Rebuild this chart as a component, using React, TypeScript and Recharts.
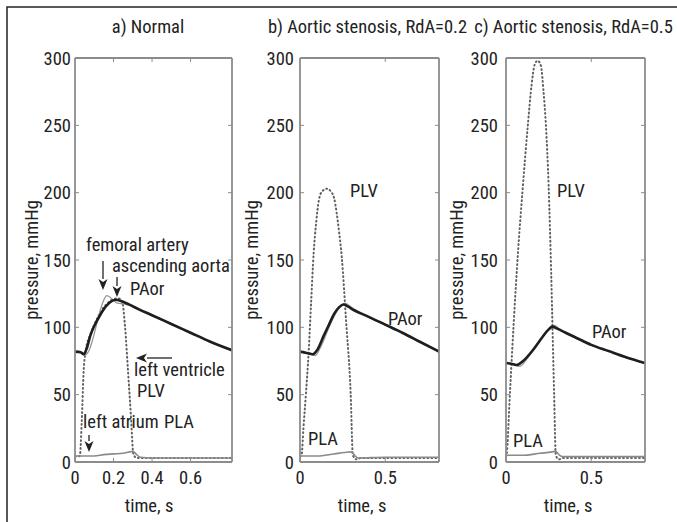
import { LineChart, Line, XAxis, YAxis } from 'recharts';

const FONT = "'Liberation Sans Narrow', 'Roboto Condensed', 'Arial Narrow', Arial, sans-serif";
const BOX = '#8c8c8c';
const INK = '#222';

const X_MAX = 0.815;
const Y_TICKS = [0, 50, 100, 150, 200, 250, 300];
const Y_INNER = [50, 100, 150, 200, 250];

// a) Normal
const normAorT = [0, 0.03, 0.045, 0.06, 0.08, 0.1, 0.13, 0.16, 0.19, 0.21, 0.24, 0.28, 0.33, 0.4, 0.5, 0.6, 0.7, 0.815];
const normAor = [82, 81.5, 80, 84, 94, 101, 109, 115.5, 119.5, 120.5, 119.5, 117, 113.5, 109, 102.5, 96, 89.5, 83];
const normFemT = [0, 0.03, 0.05, 0.07, 0.09, 0.11, 0.13, 0.15, 0.165, 0.18, 0.2, 0.22, 0.25, 0.28, 0.33, 0.4, 0.5, 0.6, 0.7, 0.815];
const normFem = [82, 81, 79.5, 82, 90, 101, 112, 120.5, 123.5, 122.5, 120, 118, 117.5, 116.5, 113, 108.5, 102, 95.5, 89, 82.5];
const normPlvT = [0, 0.025, 0.035, 0.045, 0.055, 0.08, 0.11, 0.14, 0.17, 0.2, 0.225, 0.245, 0.26, 0.275, 0.29, 0.303, 0.32, 0.4, 0.6, 0.815];
const normPlv = [4, 4.5, 30, 68, 82, 95, 105, 113, 118, 121, 121.5, 119, 100, 68, 35, 6, 3, 3, 3, 3];
const normPlaT = [0, 0.1, 0.15, 0.2, 0.25, 0.285, 0.3, 0.32, 0.34, 0.4, 0.6, 0.815];
const normPla = [4.5, 4.5, 5.5, 6, 6.5, 7.5, 8, 5.5, 3.5, 3, 3, 3];

// b) Aortic stenosis, RdA=0.2
const sten2AorT = [0, 0.04, 0.075, 0.1, 0.14, 0.17, 0.2, 0.23, 0.256, 0.28, 0.32, 0.4, 0.5, 0.6, 0.7, 0.815];
const sten2Aor = [82, 81, 80, 83, 94, 102, 110, 115, 117, 115.5, 112.5, 108, 102, 96, 89.5, 82];
const sten2FemT = [0, 0.05, 0.09, 0.12, 0.16, 0.2, 0.24, 0.265, 0.3, 0.35, 0.4, 0.5, 0.6, 0.7, 0.815];
const sten2Fem = [82, 80.5, 79, 85, 97, 108, 116, 118, 115, 111, 107.5, 101.5, 95.5, 89, 81.5];
const sten2PlvT = [0, 0.01, 0.02, 0.035, 0.05, 0.065, 0.08, 0.095, 0.11, 0.13, 0.16, 0.18, 0.2, 0.215, 0.23, 0.245, 0.27, 0.297, 0.31, 0.33, 0.36, 0.815];
const sten2Plv = [4, 6, 25, 51, 80, 118, 155, 178, 194, 201, 203, 201, 196, 185, 170, 152, 105, 51, 5, 2, 3, 3];
const sten2PlaT = [0, 0.1, 0.2, 0.26, 0.3, 0.32, 0.34, 0.5, 0.815];
const sten2Pla = [4.5, 4.5, 6, 7, 7.5, 5, 3, 3.5, 3.5];

// c) Aortic stenosis, RdA=0.5
const sten5AorT = [0, 0.03, 0.062, 0.1, 0.157, 0.215, 0.25, 0.272, 0.3, 0.35, 0.4, 0.5, 0.6, 0.7, 0.815];
const sten5Aor = [73.5, 73, 72, 75, 83, 93, 98.5, 100.5, 99, 96, 93, 87, 82.5, 78, 73.5];
const sten5FemT = [0, 0.05, 0.08, 0.12, 0.17, 0.22, 0.26, 0.285, 0.31, 0.35, 0.4, 0.5, 0.6, 0.7, 0.815];
const sten5Fem = [73.5, 72, 71, 76, 85, 94, 99, 101.5, 99, 95.5, 92.5, 86.5, 82, 77.5, 73];
const sten5PlvT = [0, 0.004, 0.023, 0.045, 0.071, 0.096, 0.128, 0.15, 0.168, 0.186, 0.205, 0.22, 0.234, 0.25, 0.265, 0.282, 0.292, 0.31, 0.34, 0.5, 0.815];
const sten5Plv = [4, 6, 51, 103, 157, 200, 250, 280, 295, 298, 294, 275, 250, 205, 140, 51, 5, 2, 3, 3, 3];
const sten5PlaT = [0, 0.1, 0.2, 0.27, 0.29, 0.31, 0.33, 0.5, 0.815];
const sten5Pla = [5, 5, 6.5, 7.5, 8, 5.5, 4, 4, 4];

const pts = (t: number[], v: number[]) => t.map((x, i) => ({ t: x, v: v[i] }));

const panels = [
  {
    key: 'a', left: 75, right: 232, xTicks: [0, 0.2, 0.4, 0.6], gap: 4,
    aor: pts(normAorT, normAor), fem: pts(normFemT, normFem),
    plv: pts(normPlvT, normPlv), pla: pts(normPlaT, normPla),
  },
  {
    key: 'b', left: 300, right: 439, xTicks: [0, 0.5], gap: 6,
    aor: pts(sten2AorT, sten2Aor), fem: pts(sten2FemT, sten2Fem),
    plv: pts(sten2PlvT, sten2Plv), pla: pts(sten2PlaT, sten2Pla),
  },
  {
    key: 'c', left: 506, right: 645, xTicks: [0, 0.5], gap: 8,
    aor: pts(sten5AorT, sten5Aor), fem: pts(sten5FemT, sten5Fem),
    plv: pts(sten5PlvT, sten5Plv), pla: pts(sten5PlaT, sten5Pla),
  },
];

const TOP = 58;
const BOTTOM = 462;
const W = 677;
const H = 522;

const leftTick = (gap: number) => (props: any) => {
  const { x, y, payload } = props;
  return (
    <g>
      <line x1={x} y1={y} x2={x + 4} y2={y} stroke={BOX} />
      <text x={x - gap} y={y} dy="0.36em" textAnchor="end" fontSize={18.5} fill={INK} fontFamily={FONT}>
        {payload.value}
      </text>
    </g>
  );
};

const bottomTick = (props: any) => {
  const { x, y, payload } = props;
  return (
    <g>
      <line x1={x} y1={y} x2={x} y2={y - 4} stroke={BOX} />
      <text x={x} y={y + 22} textAnchor="middle" fontSize={18.5} fill={INK} fontFamily={FONT}>
        {payload.value}
      </text>
    </g>
  );
};

const topTick = (props: any) => {
  const { x, y } = props;
  return <line x1={x} y1={y} x2={x} y2={y + 4} stroke={BOX} />;
};

const rightTick = (props: any) => {
  const { x, y } = props;
  return <line x1={x} y1={y} x2={x - 4} y2={y} stroke={BOX} />;
};

const Arrow = ({ x1, y1, x2, y2 }: { x1: number; y1: number; x2: number; y2: number }) => {
  const a = Math.atan2(y2 - y1, x2 - x1);
  const len = 11;
  const half = 4.5;
  const bx = x2 - len * Math.cos(a);
  const by = y2 - len * Math.sin(a);
  const px = -Math.sin(a) * half;
  const py = Math.cos(a) * half;
  return (
    <g>
      <line x1={x1} y1={y1} x2={bx} y2={by} stroke={INK} strokeWidth={1.3} />
      <polygon points={`${x2},${y2} ${bx + px},${by + py} ${bx + 3 * Math.cos(a)},${by + 3 * Math.sin(a)} ${bx - px},${by - py}`} fill={INK} />
    </g>
  );
};

const txt = { fontFamily: FONT, fontSize: 18.5, fill: INK } as const;

export default function App() {
  return (
    <div style={{ position: 'absolute', left: 0, top: 0, width: W, height: H, overflow: 'hidden', background: '#fff' }}>
      {panels.map((p) => (
        <div key={p.key} style={{ position: 'absolute', left: 0, top: 0 }}>
          <LineChart
            width={W}
            height={H}
            margin={{ top: TOP - 1, bottom: H - BOTTOM - 1, left: p.left - 1, right: W - p.right - 1 }}
          >
            <XAxis
              xAxisId="bottom"
              dataKey="t"
              type="number"
              domain={[0, X_MAX]}
              ticks={p.xTicks}
              interval={0}
              height={1}
              tickSize={0}
              tickMargin={0}
              tickLine={false}
              axisLine={{ stroke: BOX, strokeWidth: 1.8 }}
              tick={bottomTick}
              allowDataOverflow
            />
            <XAxis
              xAxisId="top"
              orientation="top"
              dataKey="t"
              type="number"
              domain={[0, X_MAX]}
              ticks={p.xTicks.filter((v) => v > 0)}
              interval={0}
              height={1}
              tickSize={0}
              tickMargin={0}
              tickLine={false}
              axisLine={{ stroke: BOX, strokeWidth: 1.8 }}
              tick={topTick}
              allowDataOverflow
            />
            <YAxis
              yAxisId="left"
              type="number"
              domain={[0, 300]}
              ticks={Y_TICKS}
              interval={0}
              width={1}
              tickSize={0}
              tickMargin={0}
              tickLine={false}
              axisLine={{ stroke: BOX, strokeWidth: 1.8 }}
              tick={leftTick(p.gap)}
              allowDataOverflow
            />
            <YAxis
              yAxisId="right"
              orientation="right"
              type="number"
              domain={[0, 300]}
              ticks={Y_INNER}
              interval={0}
              width={1}
              tickSize={0}
              tickMargin={0}
              tickLine={false}
              axisLine={{ stroke: BOX, strokeWidth: 1.8 }}
              tick={rightTick}
              allowDataOverflow
            />
            <Line
              xAxisId="bottom"
              yAxisId="left"
              data={p.plv}
              dataKey="v"
              type="monotone"
              stroke="#5f5f5f"
              strokeWidth={2}
              strokeDasharray="0.8 3.2"
              strokeLinecap="round"
              dot={false}
              isAnimationActive={false}
            />
            <Line
              xAxisId="bottom"
              yAxisId="left"
              data={p.pla}
              dataKey="v"
              type="monotone"
              stroke="#8a8a8a"
              strokeWidth={1.6}
              dot={false}
              isAnimationActive={false}
            />
            <Line
              xAxisId="bottom"
              yAxisId="left"
              data={p.fem}
              dataKey="v"
              type="monotone"
              stroke="#999"
              strokeWidth={1.3}
              dot={false}
              isAnimationActive={false}
            />
            <Line
              xAxisId="bottom"
              yAxisId="left"
              data={p.aor}
              dataKey="v"
              type="monotone"
              stroke="#1e1e1e"
              strokeWidth={2.6}
              dot={false}
              isAnimationActive={false}
            />
          </LineChart>
        </div>
      ))}
      <svg width={W} height={H} style={{ position: 'absolute', left: 0, top: 0, pointerEvents: 'none' }}>
        <rect x={7} y={7} width={700} height={560} fill="none" stroke={INK} strokeWidth={1.5} />

        <text {...txt} x={148} y={33} textAnchor="middle">a) Normal</text>
        <text {...txt} x={367.5} y={33} textAnchor="middle">b) Aortic stenosis, RdA=0.2</text>
        <text {...txt} x={573.5} y={33} textAnchor="middle">c) Aortic stenosis, RdA=0.5</text>

        <text {...txt} transform="translate(38,260) rotate(-90)" textAnchor="middle">pressure, mmHg</text>
        <text {...txt} transform="translate(258,260) rotate(-90)" textAnchor="middle">pressure, mmHg</text>
        <text {...txt} transform="translate(463,260) rotate(-90)" textAnchor="middle">pressure, mmHg</text>

        <text {...txt} x={149} y={512} textAnchor="middle">time, s</text>
        <text {...txt} x={362} y={512} textAnchor="middle">time, s</text>
        <text {...txt} x={568} y={512} textAnchor="middle">time, s</text>

        <text {...txt} x={86} y={251}>femoral artery</text>
        <text {...txt} x={112} y={272}>ascending aorta</text>
        <text {...txt} x={130} y={295}>PAor</text>
        <text {...txt} x={134} y={376}>left ventricle</text>
        <text {...txt} x={137} y={397}>PLV</text>
        <text {...txt} x={83} y={428}>left atrium</text>
        <text {...txt} x={164} y={428}>PLA</text>
        <Arrow x1={103} y1={261} x2={103} y2={290} />
        <Arrow x1={117} y1={277} x2={117} y2={297} />
        <Arrow x1={172} y1={358} x2={136} y2={358} />
        <Arrow x1={89} y1={435} x2={89} y2={452} />

        <text {...txt} x={350} y={197}>PLV</text>
        <text {...txt} x={388} y={325}>PAor</text>
        <text {...txt} x={308} y={445}>PLA</text>

        <text {...txt} x={557} y={197}>PLV</text>
        <text {...txt} x={592} y={338}>PAor</text>
        <text {...txt} x={513} y={447}>PLA</text>
      </svg>
    </div>
  );
}
